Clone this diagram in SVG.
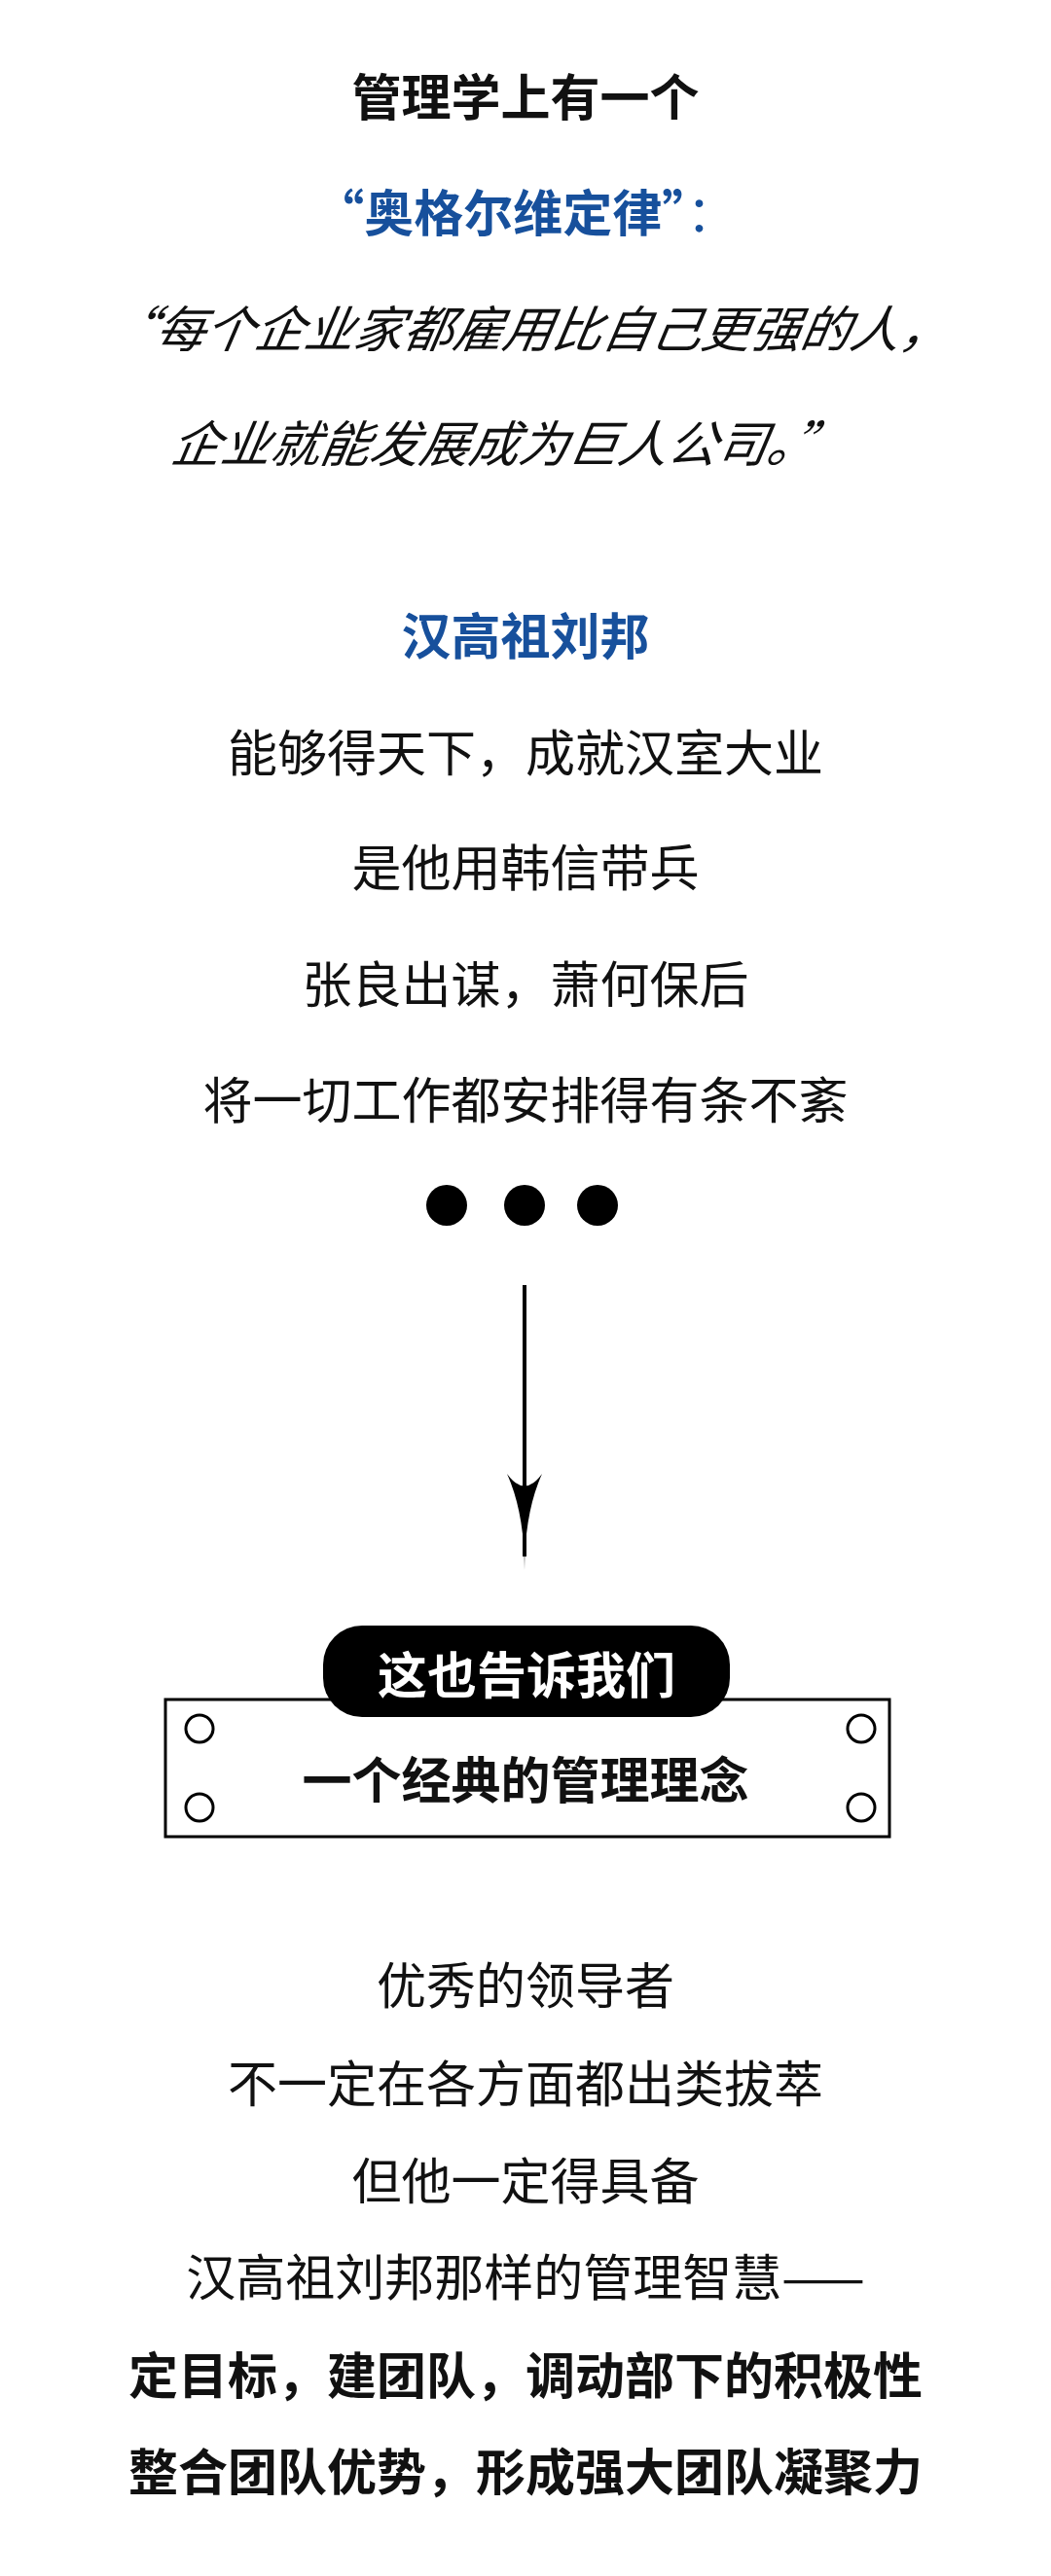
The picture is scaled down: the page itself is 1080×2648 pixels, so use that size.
<svg xmlns="http://www.w3.org/2000/svg" width="1080" height="2648" viewBox="0 0 1080 2648">
<defs>
<style>
text{font-family:"Noto Sans CJK SC","Noto Sans",sans-serif;text-anchor:middle;font-size:51px;fill:#111}
.b{font-weight:700}
.blue{fill:#17509c;font-weight:700}
.it{font-style:italic}
.r{font-weight:400}
</style>
</defs>
<rect width="1080" height="2648" fill="#fff"/>
<g id="intro">
<text class="b" x="540" y="119" font-size="52">管理学上有一个</text>
<text class="blue" x="540" y="238" font-size="54">“奥格尔维定律”<tspan font-weight="400">：</tspan></text>
<text class="it r" x="548" y="357" font-size="53" transform="skewX(-10) translate(55,0)">“每个企业家都雇用比自己更强的人，</text>
<text class="it r" x="540" y="475" font-size="53" transform="skewX(-10) translate(62,0)">企业就能发展成为巨人公司。”</text>
</g>
<g id="liubang">
<text class="blue" x="540" y="673" font-size="51">汉高祖刘邦</text>
<text class="r" x="540" y="793">能够得天下，成就汉室大业</text>
<text class="r" x="540" y="911">是他用韩信带兵</text>
<text class="r" x="540" y="1031">张良出谋，萧何保后</text>
<text class="r" x="540" y="1150">将一切工作都安排得有条不紊</text>
</g>
<g id="dots" fill="#000">
<circle cx="459" cy="1239" r="21"/>
<circle cx="539" cy="1239" r="21"/>
<circle cx="614" cy="1239" r="21"/>
</g>
<g id="connectors">
<line x1="539" y1="1321" x2="539" y2="1600" stroke="#000" stroke-width="4"/>
<path d="M521,1515 Q539,1555 539,1614 Q539,1555 557,1515 Q539,1540 521,1515Z" fill="#000"/>
</g>
<g id="box">
<rect x="170" y="1747" width="744" height="141" fill="#fff" stroke="#000" stroke-width="3"/>
<circle cx="205" cy="1777" r="14" fill="#fff" stroke="#000" stroke-width="3"/>
<circle cx="205" cy="1858" r="14" fill="#fff" stroke="#000" stroke-width="3"/>
<circle cx="885" cy="1777" r="14" fill="#fff" stroke="#000" stroke-width="3"/>
<circle cx="885" cy="1858" r="14" fill="#fff" stroke="#000" stroke-width="3"/>
<text class="b" x="540" y="1849" font-size="60">一个经典的管理理念</text>
</g>
<g id="pill">
<rect x="332" y="1671" width="418" height="94" rx="40" fill="#000"/>
<text class="b" x="541" y="1741" font-size="56" style="fill:#fff">这也告诉我们</text>
</g>
<g id="closing">
<text class="r" x="540" y="2060">优秀的领导者</text>
<text class="r" x="540" y="2161">不一定在各方面都出类拔萃</text>
<text class="r" x="540" y="2261">但他一定得具备</text>
<text class="r" x="540" y="2360">汉高祖刘邦那样的管理智慧——</text>
<text class="b" x="540" y="2461" font-size="53">定目标，建团队，调动部下的积极性</text>
<text class="b" x="540" y="2560" font-size="53">整合团队优势，形成强大团队凝聚力</text>
</g>
</svg>
